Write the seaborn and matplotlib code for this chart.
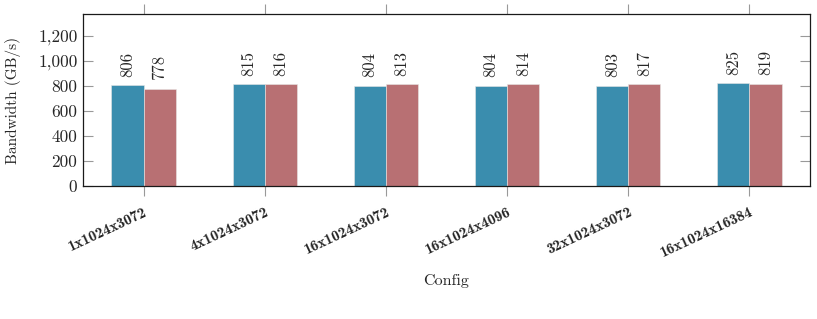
import pandas as pd
import matplotlib
matplotlib.use("Agg")
import matplotlib.pyplot as plt
import matplotlib.ticker as mticker
import seaborn as sns

# data
configs = ["1x1024x3072", "4x1024x3072", "16x1024x3072",
           "16x1024x4096", "32x1024x3072", "16x1024x16384"]
series_a = [806, 815, 804, 804, 803, 825]
series_b = [778, 816, 813, 814, 817, 819]
series_names = ["A", "B"]

df = pd.DataFrame({
    "Config": configs * 2,
    "Bandwidth": series_a + series_b,
    "Series": [series_names[0]] * len(configs) + [series_names[1]] * len(configs),
})

sns.set_style("white")
plt.rcParams["font.family"] = ["cmr10", "DejaVu Serif"]
plt.rcParams["mathtext.fontset"] = "cm"
plt.rcParams["axes.formatter.use_mathtext"] = True

fig, ax = plt.subplots(figsize=(8.17, 3.19), dpi=100)
fig.subplots_adjust(left=83/817, right=810/817, top=1-14/319, bottom=1-186/319)

palette = {"A": "#3a8dae", "B": "#b87073"}
sns.barplot(data=df, x="Config", y="Bandwidth", hue="Series", palette=palette,
            width=0.53, gap=0, saturation=1, legend=False, ax=ax,
            edgecolor="#e6e6e6", linewidth=0.4)

# value labels above bars
for cont in ax.containers:
    ax.bar_label(cont, labels=[str(int(v)) for v in cont.datavalues],
                 rotation=90, padding=6, fontsize=12, family="cmr10")

ax.set_xlim(-0.5, 5.5)
ax.set_ylim(0, 1376)
ax.yaxis.set_major_locator(mticker.MultipleLocator(200))
ax.yaxis.set_major_formatter(mticker.FuncFormatter(lambda v, p: f"{int(v):,}"))

for s in ax.spines.values():
    s.set_visible(True)
    s.set_color("#1a1a1a")
    s.set_linewidth(0.9)

ax.tick_params(axis="y", direction="in", length=7, width=0.8, color="#999999",
               left=True, right=True, labelsize=12.5, pad=4)
ax.tick_params(axis="x", direction="out", length=7, width=0.8, color="#999999",
               bottom=True, top=True, pad=6.5)

ax.set_xticks(range(len(configs)))
ax.set_xticklabels(configs, rotation=25, ha="right", rotation_mode="anchor",
                   family="cmb10", fontsize=11)

ax.set_ylabel("Bandwidth (GB/s)", fontsize=11, labelpad=12)
ax.set_xlabel("Config", fontsize=11.5, labelpad=10)

fig.savefig("out.png", dpi=100)
